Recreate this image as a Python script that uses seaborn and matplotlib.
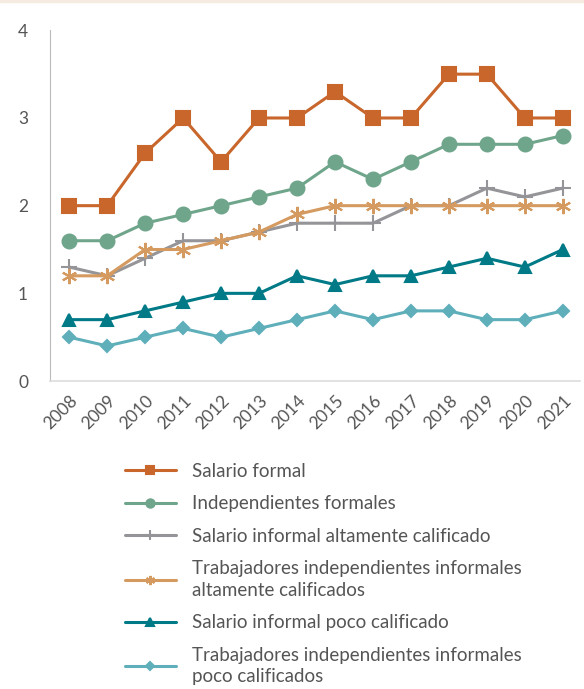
import numpy as np
import pandas as pd
import matplotlib
matplotlib.use("Agg")
import matplotlib.pyplot as plt
import seaborn as sns

years = list(range(2008, 2022))

salario_formal = [2.0, 2.0, 2.6, 3.0, 2.5, 3.0, 3.0, 3.3, 3.0, 3.0, 3.5, 3.5, 3.0, 3.0]
indep_formales = [1.6, 1.6, 1.8, 1.9, 2.0, 2.1, 2.2, 2.5, 2.3, 2.5, 2.7, 2.7, 2.7, 2.8]
sal_inf_alto = [1.3, 1.2, 1.4, 1.6, 1.6, 1.7, 1.8, 1.8, 1.8, 2.0, 2.0, 2.2, 2.1, 2.2]
ind_inf_alto = [1.2, 1.2, 1.5, 1.5, 1.6, 1.7, 1.9, 2.0, 2.0, 2.0, 2.0, 2.0, 2.0, 2.0]
sal_inf_poco = [0.7, 0.7, 0.8, 0.9, 1.0, 1.0, 1.2, 1.1, 1.2, 1.2, 1.3, 1.4, 1.3, 1.5]
ind_inf_poco = [0.5, 0.4, 0.5, 0.6, 0.5, 0.6, 0.7, 0.8, 0.7, 0.8, 0.8, 0.7, 0.7, 0.8]

labels = [
    "Salario formal",
    "Independientes formales",
    "Salario informal altamente calificado",
    "Trabajadores independientes informales\naltamente calificados",
    "Salario informal poco calificado",
    "Trabajadores independientes informales\npoco calificados",
]
series = [salario_formal, indep_formales, sal_inf_alto, ind_inf_alto, sal_inf_poco, ind_inf_poco]
colors = ["#C8662B", "#6FA58B", "#959599", "#D49A60", "#007A87", "#5FAFBB"]
markers = ["s", "o", "+", (6, 2, 0), "^", "D"]
msizes = [10, 10, 11, 11, 9, 6.5]

sns.set_style("white")
plt.rcParams["font.family"] = ["Lato", "DejaVu Sans"]

fig = plt.figure(figsize=(5.84, 6.89), dpi=100)
ax = fig.add_axes([0.086, 0.447, 0.907, 0.509])

for lab, vals, c, m, ms in zip(labels, series, colors, markers, msizes):
    df = pd.DataFrame({"year": years, "value": vals})
    sns.lineplot(data=df, x="year", y="value", ax=ax, color=c, marker=m,
                 markersize=ms, linewidth=2.2, markeredgecolor=c,
                 markeredgewidth=1.5, label=lab)

ax.set_ylim(0, 4)
ax.set_xlim(2007.5, 2021.45)
ax.set_yticks([0, 1, 2, 3, 4])
ax.set_xticks(years)
ax.set_xticklabels([str(y) for y in years], rotation=45, ha="right",
                   rotation_mode="anchor")
ax.tick_params(axis="both", colors="#555555", labelsize=12.5, length=0, pad=8)
ax.tick_params(axis="y", pad=16)
ax.set_xlabel("")
ax.set_ylabel("")
for s in ["top", "right"]:
    ax.spines[s].set_visible(False)
ax.spines["left"].set_color("#BBBBBB")
ax.spines["bottom"].set_color("#DDDDDD")
ax.spines["bottom"].set_linewidth(1.2)

h, l = ax.get_legend_handles_labels()
ax.legend_.remove()
leg = fig.legend(h, l, loc="upper left", bbox_to_anchor=(0.185, 0.353),
                 frameon=False, fontsize=13.5, labelcolor="#555555",
                 handlelength=2.7, handletextpad=0.9, labelspacing=0.83,
                 markerscale=0.6)
for t in leg.get_texts():
    t.set_linespacing(1.3)

# faint band at the top edge
fig.patches.append(plt.Rectangle((0, 0.997), 1, 0.003, transform=fig.transFigure,
                                 color="#F5EBE0", zorder=0))

fig.savefig("out.png", dpi=100)
